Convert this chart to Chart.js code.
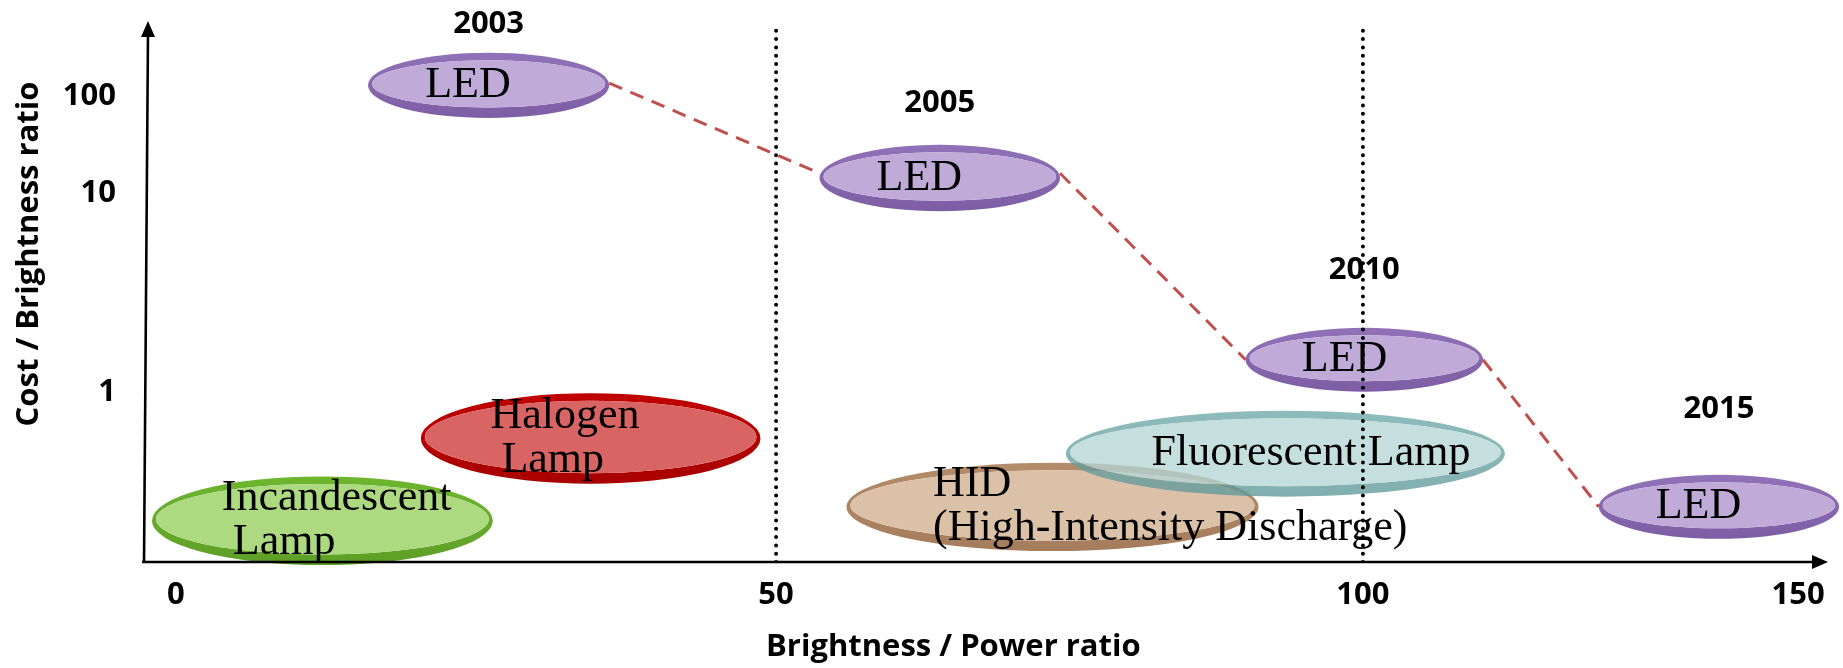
<!DOCTYPE html>
<html>
<head>
<meta charset="utf-8">
<title>Lamp efficiency</title>
<script src="https://cdn.jsdelivr.net/npm/chart.js@4.4.1/dist/chart.umd.min.js"></script>
<style>
    html, body { margin: 0; padding: 0; background: #fff; }
    #wrap { width: 1843px; height: 668px; }
</style>
</head>
<body>
<div id="wrap"><canvas id="chart"></canvas></div>
<script>
// axis ticks
const xTicks = [0, 50, 100, 150];
const yTicks = [1, 10, 100];
const xTitle = "Brightness / Power ratio";
const yTitle = "Cost / Brightness ratio";

// dotted dividers
const dividerX = [50, 100];
const dividerTop = 760;

// conventional lamps: x range (brightness/power), y range (cost/brightness)
const lampNames = ["Incandescent", "Halogen", "HID", "Fluorescent"];
const lampText = [["Incandescent", " Lamp"], ["Halogen", " Lamp"], ["HID", "(High-Intensity Discharge)"], ["Fluorescent Lamp"]];
const lampX = [[-2, 26.4], [20.4, 48.7], [56, 91.1], [74.7, 116.3]];
const lampY = [[0.096, 0.32], [0.29, 0.99], [0.116, 0.385], [0.243, 0.78]];

// LED by year
const ledYears = ["2003", "2005", "2010", "2015"];
const ledX = [[16, 36.1], [53.7, 74.2], [90, 113.8], [127.1, 154.8]];
const ledY = [[60, 380], [8.1, 31.6], [1.01, 2.11], [0.137, 0.327]];
const yearLabelY = [912, 84.5, 4.12, 0.795];

// the drawing's axes are not uniform: where each stop value sits along the axis (0..1)
const axisStops = {
    x: { values: [-2.5, 0, 50, 100, 150, 153.5], at: [0, 0.0178, 0.3746, 0.7235, 0.9822, 1] },
    y: { values: [0.1, 1, 10, 100, 1000], at: [0, 0.3133, 0.6821, 0.8604, 1], log: true }
};

const lampStyles = {
    Incandescent: { rim: "#6DB62E", rimDark: "#5E9F27", fill: "#ADD980", inset: 0.205 },
    Halogen: { rim: "#C00000", rimDark: "#A80000", fill: "#D96464", inset: 0.205 },
    HID: { rim: "#B48C6A", rimDark: "#A57D5C", fill: "#DCC1A9", inset: 0.21 },
    Fluorescent: { rim: "#6EA8A8", rimDark: "#5E9898", fill: "#B5D5D5", inset: 0.195, alpha: 0.78 },
    LED: { rim: "#9172B9", rimDark: "#7D5EA4", fill: "#C0AAD8", inset: 0.237 }
};

const boldFont = 'bold 31px "Open Sans", sans-serif';

const LinearScale = Chart.LinearScale || Chart.registry.getScale("linear");

class StopScale extends LinearScale {
    static id = "stops";
    static defaults = LinearScale.defaults;

    stopValues() {
        const s = axisStops[this.id];
        return s.values.map(v => s.log ? Math.log10(v) : v);
    }

    getPixelForValue(value) {
        if (value === null || value === undefined || isNaN(value)) return NaN;
        const s = axisStops[this.id];
        const vs = this.stopValues();
        const t = s.log ? Math.log10(value) : value;
        let i = 0;
        while (i < vs.length - 2 && t > vs[i + 1]) i++;
        const f = s.at[i] + (t - vs[i]) / (vs[i + 1] - vs[i]) * (s.at[i + 1] - s.at[i]);
        return this.getPixelForDecimal(f);
    }

    getValueForPixel(pixel) {
        const s = axisStops[this.id];
        const vs = this.stopValues();
        const f = this.getDecimalForPixel(pixel);
        let i = 0;
        while (i < s.at.length - 2 && f > s.at[i + 1]) i++;
        const t = vs[i] + (f - s.at[i]) / (s.at[i + 1] - s.at[i]) * (vs[i + 1] - vs[i]);
        return s.log ? Math.pow(10, t) : t;
    }
}
Chart.register(StopScale);

const geoMid = r => Math.sqrt(r[0] * r[1]);

// dashed red trend between consecutive LED ellipses
const trendPoints = [];
for (let i = 0; i < ledX.length - 1; i++) {
    trendPoints.push({ x: ledX[i][1], y: geoMid(ledY[i]) });
    trendPoints.push({ x: ledX[i + 1][0], y: geoMid(ledY[i + 1]) });
    trendPoints.push({ x: ledX[i + 1][0], y: null });
}

function boxFor(chart, xr, yr) {
    const { x, y } = chart.scales;
    const l = x.getPixelForValue(xr[0]), r = x.getPixelForValue(xr[1]);
    const t = y.getPixelForValue(yr[1]), b = y.getPixelForValue(yr[0]);
    return { l, r, t, b, cx: (l + r) / 2, cy: (t + b) / 2, rx: (r - l) / 2, ry: (b - t) / 2 };
}

function drawDisk(ctx, box, st) {
    ctx.save();
    ctx.globalAlpha = st.alpha || 1;
    const icy = box.cy - 1.5, irx = box.rx - 4, iry = box.ry - 9;
    const grad = ctx.createLinearGradient(0, box.t, 0, box.b);
    grad.addColorStop(0, st.rim);
    grad.addColorStop(1, st.rimDark);
    ctx.beginPath();
    ctx.ellipse(box.cx, box.cy, box.rx, box.ry, 0, 0, Math.PI * 2);
    ctx.moveTo(box.cx + irx, icy);
    ctx.ellipse(box.cx, icy, irx, iry, 0, 0, Math.PI * 2);
    ctx.fillStyle = grad;
    ctx.fill("evenodd");
    ctx.beginPath();
    ctx.ellipse(box.cx, icy, irx, iry, 0, 0, Math.PI * 2);
    ctx.fillStyle = st.fill;
    ctx.fill();
    ctx.restore();
}

function drawLabel(ctx, box, lines, st) {
    ctx.save();
    ctx.font = '44px "Liberation Serif", serif';
    ctx.fillStyle = "#000";
    ctx.textAlign = "left";
    ctx.textBaseline = "middle";
    const lh = 44;
    const x = box.l + st.inset * (box.r - box.l);
    lines.forEach((line, i) => {
        ctx.fillText(line, x, box.cy + (i - (lines.length - 1) / 2) * lh);
    });
    ctx.restore();
}

const diskPlugin = {
    id: "disks",
    beforeDatasetsDraw(chart) {
        const ctx = chart.ctx;
        const items = [];
        lampNames.forEach((name, i) => items.push({ box: boxFor(chart, lampX[i], lampY[i]), text: lampText[i], st: lampStyles[name] }));
        ledYears.forEach((year, i) => items.push({ box: boxFor(chart, ledX[i], ledY[i]), text: ["LED"], st: lampStyles.LED }));
        items.forEach(it => {
            drawDisk(ctx, it.box, it.st);
            drawLabel(ctx, it.box, it.text, it.st);
        });

        ctx.save();
        ctx.font = boldFont;
        ctx.fillStyle = "#000";
        ctx.textAlign = "center";
        ctx.textBaseline = "middle";
        ledYears.forEach((year, i) => {
            const box = boxFor(chart, ledX[i], ledY[i]);
            ctx.fillText(year, box.cx, chart.scales.y.getPixelForValue(yearLabelY[i]));
        });
        ctx.restore();
    },
    afterDraw(chart) {
        const ctx = chart.ctx;
        const { left, right, top, bottom } = chart.chartArea;
        ctx.save();
        ctx.strokeStyle = "#000";
        ctx.fillStyle = "#000";
        ctx.lineWidth = 2.6;
        ctx.beginPath();
        ctx.moveTo(left - 2, bottom + 1);
        ctx.lineTo(left + 2, top + 12);
        ctx.moveTo(left - 4, bottom);
        ctx.lineTo(right - 12, bottom);
        ctx.stroke();
        ctx.beginPath();
        ctx.moveTo(left + 2, top);
        ctx.lineTo(left - 5, top + 16);
        ctx.lineTo(left + 9, top + 16);
        ctx.closePath();
        ctx.moveTo(right, bottom);
        ctx.lineTo(right - 16, bottom - 7);
        ctx.lineTo(right - 16, bottom + 7);
        ctx.closePath();
        ctx.fill();

        ctx.font = boldFont;
        ctx.textAlign = "center";
        ctx.textBaseline = "middle";
        ctx.fillText(xTitle, left + 0.48 * (right - left), bottom + 85);
        ctx.translate(29, top + 233);
        ctx.rotate(-Math.PI / 2);
        ctx.fillText(yTitle, 0, 0);
        ctx.restore();
    }
};

const tickFont = { family: "Open Sans", weight: "bold", size: 31 };

new Chart(document.getElementById("chart"), {
    type: "scatter",
    data: {
        datasets: [
            ...dividerX.map(x => ({
                data: [{ x, y: axisStops.y.values[0] }, { x, y: dividerTop }],
                showLine: true,
                borderColor: "#000",
                borderWidth: 4,
                borderDash: [0, 8.3],
                borderCapStyle: "round",
                pointRadius: 0
            })),
            {
                data: trendPoints,
                showLine: true,
                spanGaps: false,
                borderColor: "#C0504D",
                borderWidth: 3,
                borderDash: [14, 9],
                pointRadius: 0
            }
        ]
    },
    options: {
        responsive: true,
        maintainAspectRatio: false,
        animation: false,
        events: [],
        layout: { padding: { top: 21, right: 15, left: 0, bottom: 0 } },
        plugins: { legend: { display: false }, tooltip: { enabled: false } },
        scales: {
            x: {
                type: "stops",
                min: axisStops.x.values[0],
                max: axisStops.x.values[axisStops.x.values.length - 1],
                bounds: "data",
                afterBuildTicks: s => { s.ticks = xTicks.map(v => ({ value: v })); },
                afterFit: s => { s.height = 106; s.paddingLeft = 0; s.paddingRight = 0; },
                grid: { display: false, drawTicks: false },
                border: { display: false },
                ticks: { font: tickFont, color: "#000", padding: 15, autoSkip: false, maxRotation: 0, callback: v => String(v) }
            },
            y: {
                type: "stops",
                min: axisStops.y.values[0],
                max: axisStops.y.values[axisStops.y.values.length - 1],
                bounds: "data",
                afterBuildTicks: s => { s.ticks = yTicks.map(v => ({ value: v })); },
                afterFit: s => { s.width = 146; s.paddingTop = 0; s.paddingBottom = 0; },
                grid: { display: false, drawTicks: false },
                border: { display: false },
                ticks: { font: tickFont, color: "#000", padding: 30, autoSkip: false, callback: v => String(v) }
            }
        }
    },
    plugins: [diskPlugin]
});
</script>
</body>
</html>
